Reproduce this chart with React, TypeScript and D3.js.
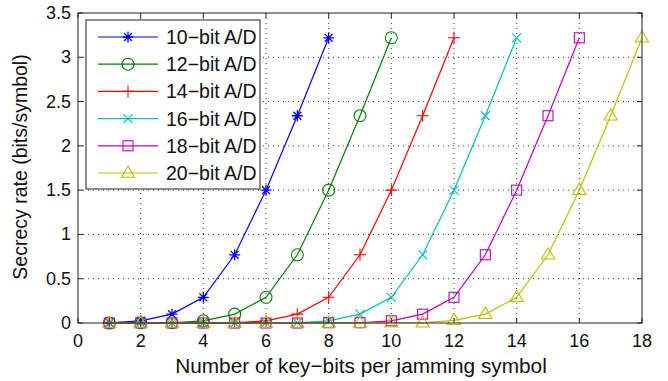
import React from "react";
import * as d3 from "d3";

// key-bits per jamming symbol
const xs10 = [1, 2, 3, 4, 5, 6, 7, 8];
const xs12 = [1, 2, 3, 4, 5, 6, 7, 8, 9, 10];
const xs14 = [1, 2, 3, 4, 5, 6, 7, 8, 9, 10, 11, 12];
const xs16 = [1, 2, 3, 4, 5, 6, 7, 8, 9, 10, 11, 12, 13, 14];
const xs18 = [1, 2, 3, 4, 5, 6, 7, 8, 9, 10, 11, 12, 13, 14, 15, 16];
const xs20 = [1, 2, 3, 4, 5, 6, 7, 8, 9, 10, 11, 12, 13, 14, 15, 16, 17, 18];

// secrecy rate (bits/symbol)
const rate10 = [0.003, 0.025, 0.1, 0.29, 0.77, 1.5, 2.34, 3.22];
const rate12 = [0, 0.003, 0.003, 0.025, 0.1, 0.29, 0.77, 1.5, 2.34, 3.22];
const rate14 = [0, 0, 0, 0.003, 0.003, 0.025, 0.1, 0.29, 0.77, 1.5, 2.34, 3.22];
const rate16 = [0, 0, 0, 0, 0, 0.003, 0.003, 0.025, 0.1, 0.29, 0.77, 1.5, 2.34, 3.22];
const rate18 = [0, 0, 0, 0, 0, 0, 0, 0.003, 0.003, 0.025, 0.1, 0.29, 0.77, 1.5, 2.34, 3.22];
const rate20 = [0, 0, 0, 0, 0, 0, 0, 0, 0, 0.003, 0.003, 0.03, 0.1, 0.29, 0.77, 1.5, 2.34, 3.22];

const labels = ["10\u2212bit A/D", "12\u2212bit A/D", "14\u2212bit A/D", "16\u2212bit A/D", "18\u2212bit A/D", "20\u2212bit A/D"];
const colors = ["#0000ff", "#008000", "#ff0000", "#00bfbf", "#bf00bf", "#bfbf00"];
const markers = ["star", "circle", "plus", "cross", "square", "triangle"];

const xTicks = [0, 2, 4, 6, 8, 10, 12, 14, 16, 18];
const yTicks = [0, 0.5, 1, 1.5, 2, 2.5, 3, 3.5];

const seriesX = [xs10, xs12, xs14, xs16, xs18, xs20];
const seriesY = [rate10, rate12, rate14, rate16, rate18, rate20];

const W = 668;
const H = 381;
const left = 78, right = 642, top = 13, bottom = 323;
const FONT = "'Liberation Sans', Arial, Helvetica, sans-serif";

const x = d3.scaleLinear().domain([0, 18]).range([left, right]);
const y = d3.scaleLinear().domain([0, 3.5]).range([bottom, top]);

const Marker = ({ kind, cx, cy, color }: { kind: string; cx: number; cy: number; color: string }) => {
  const s = { stroke: color, strokeWidth: 1.1, fill: "none" };
  if (kind === "star") {
    const r = 5.5, d = r * 0.72;
    return (
      <path {...s} strokeWidth={1.3}
        d={`M${cx - r},${cy}H${cx + r}M${cx},${cy - r}V${cy + r}M${cx - d},${cy - d}L${cx + d},${cy + d}M${cx - d},${cy + d}L${cx + d},${cy - d}`} />
    );
  }
  if (kind === "circle") return <circle {...s} cx={cx} cy={cy} r={6} />;
  if (kind === "plus") {
    const r = 6;
    return <path {...s} d={`M${cx - r},${cy}H${cx + r}M${cx},${cy - r}V${cy + r}`} />;
  }
  if (kind === "cross") {
    const r = 4.5;
    return <path {...s} d={`M${cx - r},${cy - r}L${cx + r},${cy + r}M${cx - r},${cy + r}L${cx + r},${cy - r}`} />;
  }
  if (kind === "square") return <rect {...s} x={cx - 5} y={cy - 5} width={10} height={10} />;
  const r = 7;
  return <path {...s} d={`M${cx},${cy - r}L${cx + r * 0.95},${cy + r * 0.6}L${cx - r * 0.95},${cy + r * 0.6}Z`} />;
};

export default function App() {
  const line = d3.line<[number, number]>().x((d) => x(d[0])).y((d) => y(d[1]));
  const tickLen = 5;

  return (
    <svg width={W} height={H} style={{ position: "absolute", left: 0, top: 0, background: "#fff" }}>
      <rect x={0} y={0} width={W} height={H} fill="#fff" />
      {/* grid */}
      <g stroke="#000" strokeWidth={0.8} strokeDasharray="1,4">
        {xTicks.slice(1, -1).map((t) => (
          <line key={"gx" + t} x1={x(t)} x2={x(t)} y1={top} y2={bottom} />
        ))}
        {yTicks.slice(1, -1).map((t) => (
          <line key={"gy" + t} x1={left} x2={right} y1={y(t)} y2={y(t)} />
        ))}
      </g>
      {/* series */}
      {seriesX.map((xs, i) => {
        const pts = xs.map((v, j) => [v, seriesY[i][j]] as [number, number]);
        return (
          <g key={"s" + i}>
            <path d={line(pts) || ""} fill="none" stroke={colors[i]} strokeWidth={1.2} />
            {pts.map((p, j) => (
              <Marker key={j} kind={markers[i]} cx={x(p[0])} cy={y(p[1])} color={colors[i]} />
            ))}
          </g>
        );
      })}
      {/* frame and ticks */}
      <rect x={left} y={top} width={right - left} height={bottom - top} fill="none" stroke="#222" strokeWidth={1} />
      <g stroke="#222" strokeWidth={1}>
        {xTicks.map((t) => (
          <g key={"tx" + t}>
            <line x1={x(t)} x2={x(t)} y1={bottom} y2={bottom - tickLen} />
            <line x1={x(t)} x2={x(t)} y1={top} y2={top + tickLen} />
          </g>
        ))}
        {yTicks.map((t) => (
          <g key={"ty" + t}>
            <line x1={left} x2={left + tickLen} y1={y(t)} y2={y(t)} />
            <line x1={right} x2={right - tickLen} y1={y(t)} y2={y(t)} />
          </g>
        ))}
      </g>
      <g fontFamily={FONT} fill="#111">
        {xTicks.map((t) => (
          <text key={"lx" + t} x={x(t)} y={bottom + 24} textAnchor="middle" fontSize={18}>{t}</text>
        ))}
        {yTicks.map((t) => (
          <text key={"ly" + t} x={left - 7} y={y(t) + 6} textAnchor="end" fontSize={18}>{t}</text>
        ))}
        <text x={361} y={373} textAnchor="middle" fontSize={20.8}>Number of key{"\u2212"}bits per jamming symbol</text>
        <text transform={`translate(27,167) rotate(-90)`} textAnchor="middle" fontSize={19.5}>Secrecy rate (bits/symbol)</text>
      </g>
      {/* legend */}
      <g>
        <rect x={86} y={20} width={174} height={169} fill="#fff" stroke="#222" strokeWidth={1} />
        {labels.map((lab, i) => {
          const ly = 37 + i * 27.2;
          return (
            <g key={"lg" + i}>
              <line x1={98} x2={158} y1={ly} y2={ly} stroke={colors[i]} strokeWidth={1.2} />
              <Marker kind={markers[i]} cx={128} cy={ly} color={colors[i]} />
              <text x={166} y={ly + 7} fontFamily={FONT} fontSize={19.5} fill="#111">{lab}</text>
            </g>
          );
        })}
      </g>
    </svg>
  );
}
